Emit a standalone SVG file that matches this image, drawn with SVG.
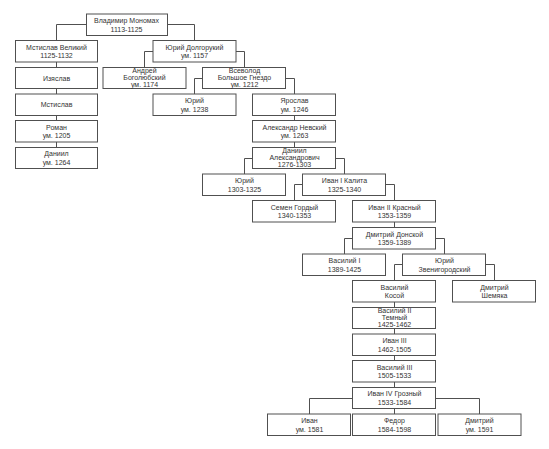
<svg xmlns="http://www.w3.org/2000/svg" width="549" height="449" viewBox="0 0 549 449">
<style>
.n rect{fill:#fff;stroke:#505050;stroke-width:1}
.n text{font-family:"Liberation Sans",Arial,sans-serif;font-size:7px;fill:#333;text-anchor:middle}
.c path{fill:none;stroke:#505050;stroke-width:1}
</style>
<rect width="549" height="449" fill="#fff"/>
<g class="c" id="connectors">
<path d="M86,24.5H56.5V40.5"/>
<path d="M167,24.5H194.5V40.5"/>
<path d="M56.5,62V67.5M56.5,88.5V94M56.5,115.5V120.5M56.5,142V147.5"/>
<path d="M153,51.5H144.5V67.5"/>
<path d="M236,51.5H244.5V67.5"/>
<path d="M202.5,78.5H194.5V94"/>
<path d="M285.5,78.5H294.5V94"/>
<path d="M294.5,115.5V120.5M294.5,142V147.5"/>
<path d="M252.5,158.5H244.5V174"/>
<path d="M335.5,158.5H344.5V174"/>
<path d="M302.5,184.5H294.5V200.5"/>
<path d="M385.5,184.5H394.5V200.5"/>
<path d="M394.5,222V227.5"/>
<path d="M352.5,238.5H344.5V254"/>
<path d="M435.5,238.5H444.5V254"/>
<path d="M402.5,264.5H394.5V280.5"/>
<path d="M485.5,264.5H494.5V280.5"/>
<path d="M394.5,302V307.5M394.5,328.5V334M394.5,355.5V360.5M394.5,382V387.5M394.5,408.5V414"/>
<path d="M352.5,398.5H309.5V414"/>
<path d="M435.5,398.5H479.5V414"/>
</g>
<g class="n" id="vladimir"><rect x="86.5" y="14" width="81" height="21.5"/><text x="126.5" y="23">Владимир Мономах</text><text x="126.5" y="31.8">1113-1125</text></g>
<g class="n" id="mstislav-velikiy"><rect x="15.5" y="40.5" width="82" height="21.5"/><text x="56.5" y="49.5">Мстислав Великий</text><text x="56.5" y="58.3">1125-1132</text></g>
<g class="n" id="izyaslav"><rect x="15.5" y="67.5" width="82" height="21"/><text x="56.5" y="80.5">Изяслав</text></g>
<g class="n" id="mstislav"><rect x="15.5" y="94" width="82" height="21.5"/><text x="56.5" y="107.2">Мстислав</text></g>
<g class="n" id="roman"><rect x="15.5" y="120.5" width="82" height="21.5"/><text x="56.5" y="129.5">Роман</text><text x="56.5" y="138.3">ум. 1205</text></g>
<g class="n" id="daniil"><rect x="15.5" y="147.5" width="82" height="21"/><text x="56.5" y="156.3">Даниил</text><text x="56.5" y="165">ум. 1264</text></g>
<g class="n" id="yuriy-dolgorukiy"><rect x="153" y="40.5" width="83" height="21.5"/><text x="194.5" y="49.5">Юрий Долгорукий</text><text x="194.5" y="58.3">ум. 1157</text></g>
<g class="n" id="andrey"><rect x="103" y="67.5" width="83" height="21"/><text x="144.5" y="72.8">Андрей</text><text x="144.5" y="79.8">Боголюбский</text><text x="144.5" y="86.8">ум. 1174</text></g>
<g class="n" id="vsevolod"><rect x="202.5" y="67.5" width="83" height="21"/><text x="244.5" y="72.8">Всеволод</text><text x="244.5" y="79.8">Большое Гнездо</text><text x="244.5" y="86.8">ум. 1212</text></g>
<g class="n" id="yuriy-1238"><rect x="153" y="94" width="83" height="21.5"/><text x="194.5" y="103">Юрий</text><text x="194.5" y="111.8">ум. 1238</text></g>
<g class="n" id="yaroslav"><rect x="252.5" y="94" width="83" height="21.5"/><text x="294.5" y="103">Ярослав</text><text x="294.5" y="111.8">ум. 1246</text></g>
<g class="n" id="aleksandr"><rect x="252.5" y="120.5" width="83" height="21.5"/><text x="294.5" y="129.5">Александр Невский</text><text x="294.5" y="138.3">ум. 1263</text></g>
<g class="n" id="daniil-aleksandrovich"><rect x="252.5" y="147.5" width="83" height="21"/><text x="294.5" y="152.8">Даниил</text><text x="294.5" y="159.8">Александрович</text><text x="294.5" y="166.8">1276-1303</text></g>
<g class="n" id="yuriy-1303"><rect x="202.5" y="174" width="83" height="21.5"/><text x="244.5" y="183">Юрий</text><text x="244.5" y="191.8">1303-1325</text></g>
<g class="n" id="ivan-kalita"><rect x="302.5" y="174" width="83" height="21.5"/><text x="344.5" y="183">Иван I Калита</text><text x="344.5" y="191.8">1325-1340</text></g>
<g class="n" id="semen"><rect x="252.5" y="200.5" width="83" height="21.5"/><text x="294.5" y="209.5">Семен Гордый</text><text x="294.5" y="218.3">1340-1353</text></g>
<g class="n" id="ivan-krasnyy"><rect x="352.5" y="200.5" width="83" height="21.5"/><text x="394.5" y="209.5">Иван II Красный</text><text x="394.5" y="218.3">1353-1359</text></g>
<g class="n" id="dmitriy-donskoy"><rect x="352.5" y="227.5" width="83" height="21.5"/><text x="394.5" y="236.5">Дмитрий Донской</text><text x="394.5" y="245.3">1359-1389</text></g>
<g class="n" id="vasiliy-1"><rect x="302.5" y="254" width="83" height="21.5"/><text x="344.5" y="263">Василий I</text><text x="344.5" y="271.8">1389-1425</text></g>
<g class="n" id="yuriy-zvenigorodskiy"><rect x="402.5" y="254" width="83" height="21.5"/><text x="444.5" y="263">Юрий</text><text x="444.5" y="271.8">Звенигородский</text></g>
<g class="n" id="vasiliy-kosoy"><rect x="352.5" y="280.5" width="83" height="21.5"/><text x="394.5" y="289.5">Василий</text><text x="394.5" y="298.3">Косой</text></g>
<g class="n" id="dmitriy-shemyaka"><rect x="452.5" y="280.5" width="83" height="21.5"/><text x="494.5" y="289.5">Дмитрий</text><text x="494.5" y="298.3">Шемяка</text></g>
<g class="n" id="vasiliy-2"><rect x="352.5" y="307.5" width="83" height="21"/><text x="394.5" y="312.8">Василий II</text><text x="394.5" y="319.8">Темный</text><text x="394.5" y="326.8">1425-1462</text></g>
<g class="n" id="ivan-3"><rect x="352.5" y="334" width="83" height="21.5"/><text x="394.5" y="343">Иван III</text><text x="394.5" y="351.8">1462-1505</text></g>
<g class="n" id="vasiliy-3"><rect x="352.5" y="360.5" width="83" height="21.5"/><text x="394.5" y="369.5">Василий III</text><text x="394.5" y="378.3">1505-1533</text></g>
<g class="n" id="ivan-4"><rect x="352.5" y="387.5" width="83" height="21"/><text x="394.5" y="396.3">Иван IV Грозный</text><text x="394.5" y="405">1533-1584</text></g>
<g class="n" id="ivan"><rect x="267.5" y="414" width="83" height="21.5"/><text x="309.5" y="423">Иван</text><text x="309.5" y="431.8">ум. 1581</text></g>
<g class="n" id="fedor"><rect x="352.5" y="414" width="83" height="21.5"/><text x="394.5" y="423">Федор</text><text x="394.5" y="431.8">1584-1598</text></g>
<g class="n" id="dmitriy"><rect x="438" y="414" width="83" height="21.5"/><text x="479.5" y="423">Дмитрий</text><text x="479.5" y="431.8">ум. 1591</text></g>
</svg>
